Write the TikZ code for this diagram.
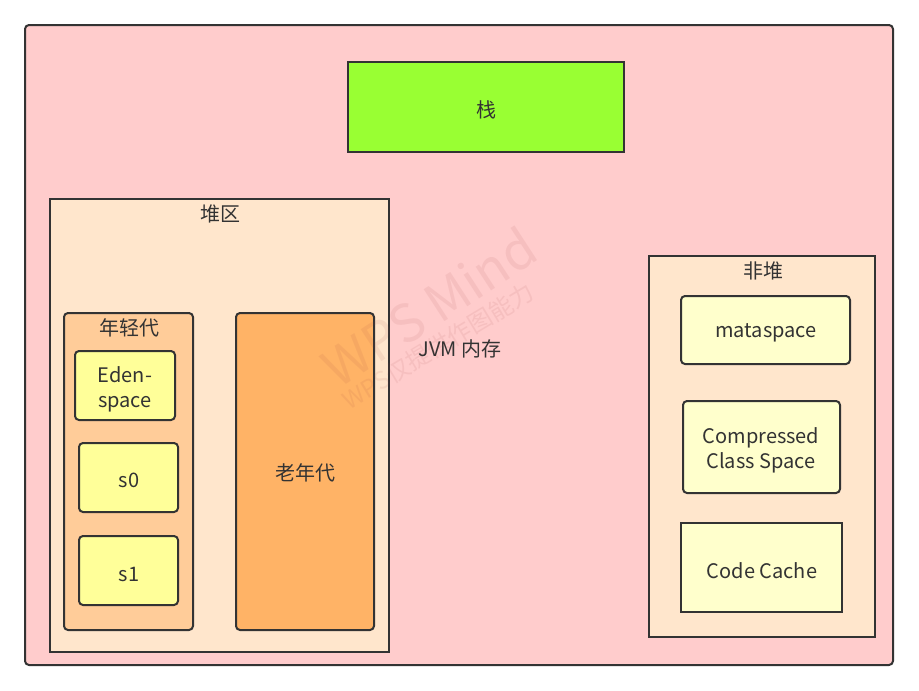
\documentclass[tikz,border=0pt]{standalone}
\usepackage{fontspec}
\setmainfont{Noto Sans CJK SC}
\definecolor{linec}{HTML}{333333}
\definecolor{textc}{HTML}{333333}
\definecolor{jvmfill}{HTML}{FFCCCC}
\definecolor{stackfill}{HTML}{99FF33}
\definecolor{areafill}{HTML}{FFE6CC}
\definecolor{youngfill}{HTML}{FFCC99}
\definecolor{oldfill}{HTML}{FFB366}
\definecolor{edenfill}{HTML}{FFFF99}
\definecolor{metafill}{HTML}{FFFFCC}
\definecolor{wmc}{HTML}{A04040}
\begin{document}
\begin{tikzpicture}[x=1pt,y=-1pt,
  box/.style={draw=linec, line width=2pt, inner sep=0pt, outer sep=0pt, anchor=north west},
  rbox/.style={box, rounded corners=4pt},
  lbl/.style={text=textc, font=\fontsize{20}{25}\selectfont, align=center, inner sep=0pt},
  wm/.style={text=wmc, opacity=0.09, inner sep=0pt}
]
\useasboundingbox (0,0) rectangle (919,691);
% outer JVM memory
\node[rbox, fill=jvmfill, minimum width=868pt, minimum height=640pt] (jvm) at (25,25) {};
% stack
\node[box, fill=stackfill, minimum width=276pt, minimum height=90pt] (stack) at (348,62) {};
\node[lbl] (stacklbl) at (486,110) {栈};
% heap
\node[box, fill=areafill, minimum width=339pt, minimum height=453pt] (heap) at (50,199) {};
\node[lbl] (heaplbl) at (220,214) {堆区};
\node[rbox, fill=youngfill, minimum width=129pt, minimum height=317pt] (young) at (64,313) {};
\node[lbl] (younglbl) at (129,328) {年轻代};
\node[rbox, fill=edenfill, minimum width=100pt, minimum height=69pt] (eden) at (75,351) {};
\node[lbl] (edenlbl) at (125,389) {Eden-\\space};
\node[rbox, fill=edenfill, minimum width=99pt, minimum height=69pt] (s0) at (79,443) {};
\node[lbl] (s0lbl) at (129,480) {s0};
\node[rbox, fill=edenfill, minimum width=99pt, minimum height=69pt] (s1) at (79,536) {};
\node[lbl] (s1lbl) at (129,574) {s1};
\node[rbox, fill=oldfill, minimum width=138pt, minimum height=317pt] (old) at (236,313) {};
\node[lbl] (oldlbl) at (305,473) {老年代};
% JVM label
\node[lbl] (jvmlbl) at (460,349) {JVM 内存};
% non-heap
\node[box, fill=areafill, minimum width=226pt, minimum height=381pt] (nonheap) at (649,256) {};
\node[lbl] (nonheaplbl) at (763,271) {非堆};
\node[rbox, fill=metafill, minimum width=169pt, minimum height=68pt] (meta) at (681,296) {};
\node[lbl] (metalbl) at (766,333) {mataspace};
\node[rbox, fill=metafill, minimum width=157pt, minimum height=92pt] (ccs) at (683,401) {};
\node[lbl] (ccslbl) at (761,450) {Compressed\\Class Space};
\node[box, fill=metafill, minimum width=161pt, minimum height=89pt] (cc) at (681,523) {};
\node[lbl] (cclbl) at (762,571) {Code Cache};
% watermark
\node[wm, rotate=33, font=\fontsize{52}{52}\selectfont] (wm1) at (429,307) {WPS Mind};
\node[wm, rotate=31, font=\fontsize{24}{24}\selectfont] (wm2) at (438,346) {WPS仅提供作图能力};
\end{tikzpicture}
\end{document}
